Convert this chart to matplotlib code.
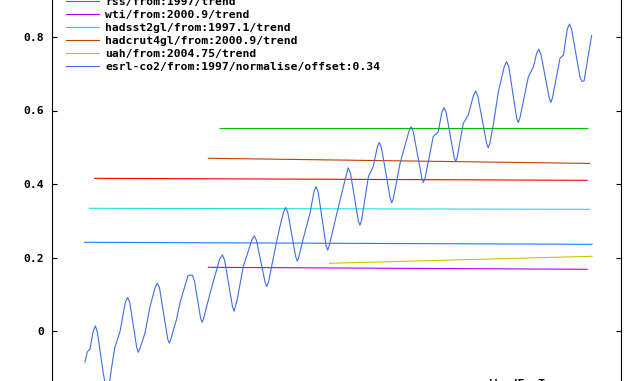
import matplotlib
matplotlib.use("Agg")
import matplotlib.pyplot as plt
from matplotlib.lines import Line2D

# ---------------- data ----------------
# CO2 curve (esrl-co2/from:1997/normalise/offset:0.34)
co2_years = [
    1997.04, 1997.12, 1997.20, 1997.30, 1997.37, 1997.44, 1997.62, 1997.72, 1997.78, 1997.89,
    1997.99, 1998.15, 1998.32, 1998.39, 1998.46, 1998.68, 1998.73, 1998.78, 1998.94, 1999.10,
    1999.26, 1999.33, 1999.40, 1999.66, 1999.71, 1999.76, 1999.94, 2000.05, 2000.30, 2000.36,
    2000.44, 2000.51, 2000.70, 2000.75, 2000.80, 2001.00, 2001.30, 2001.39, 2001.46, 2001.71,
    2001.76, 2001.86, 2002.05, 2002.32, 2002.40, 2002.47, 2002.74, 2002.79, 2002.85, 2003.05,
    2003.21, 2003.33, 2003.39, 2003.46, 2003.71, 2003.76, 2003.81, 2003.95, 2004.16, 2004.29,
    2004.35, 2004.42, 2004.67, 2004.72, 2004.77, 2005.01, 2005.27, 2005.37, 2005.44, 2005.69,
    2005.74, 2005.79, 2006.01, 2006.16, 2006.29, 2006.35, 2006.42, 2006.70, 2006.75, 2006.80,
    2007.01, 2007.29, 2007.36, 2007.43, 2007.70, 2007.75, 2007.80, 2008.06, 2008.22, 2008.33,
    2008.40, 2008.47, 2008.72, 2008.77, 2008.82, 2009.01, 2009.17, 2009.33, 2009.40, 2009.47,
    2009.75, 2009.80, 2009.85, 2009.96, 2010.12, 2010.31, 2010.38, 2010.45, 2010.70, 2010.75,
    2010.80, 2011.07, 2011.23, 2011.33, 2011.40, 2011.47, 2011.73, 2011.78, 2011.83, 2012.07,
    2012.18, 2012.30, 2012.37, 2012.44, 2012.70, 2012.76, 2012.83, 2013.07,
]
co2_values = [
    -0.085, -0.056, -0.050, -0.002, 0.014, -0.005, -0.114, -0.160, -0.162, -0.097,
    -0.044, -0.002, 0.078, 0.091, 0.078, -0.045, -0.058, -0.048, -0.006, 0.066,
    0.118, 0.130, 0.118, -0.022, -0.033, -0.022, 0.032, 0.077, 0.150, 0.152,
    0.152, 0.135, 0.035, 0.024, 0.035, 0.103, 0.195, 0.207, 0.193, 0.066,
    0.054, 0.086, 0.175, 0.247, 0.259, 0.246, 0.133, 0.121, 0.133, 0.220,
    0.284, 0.325, 0.336, 0.322, 0.202, 0.190, 0.202, 0.252, 0.320, 0.380,
    0.393, 0.378, 0.232, 0.220, 0.232, 0.320, 0.411, 0.444, 0.430, 0.300,
    0.288, 0.300, 0.420, 0.447, 0.500, 0.513, 0.500, 0.361, 0.349, 0.361,
    0.456, 0.543, 0.556, 0.542, 0.416, 0.404, 0.416, 0.529, 0.542, 0.595,
    0.608, 0.594, 0.473, 0.461, 0.473, 0.565, 0.588, 0.640, 0.653, 0.639,
    0.510, 0.499, 0.510, 0.561, 0.651, 0.720, 0.733, 0.719, 0.579, 0.567,
    0.579, 0.692, 0.719, 0.755, 0.767, 0.752, 0.634, 0.622, 0.634, 0.742,
    0.751, 0.822, 0.835, 0.820, 0.692, 0.680, 0.680, 0.804,
]

# Trend lines: (start year, end year), (start value, end value)
trend_names = ["gistemp-hidden", "hadcrut3-hidden", "rss/from:1997/trend", "wti/from:2000.9/trend",
               "hadsst2gl/from:1997.1/trend", "hadcrut4gl/from:2000.9/trend", "uah/from:2004.75/trend"]
trend_years = [(2001.28, 2012.95), (1997.33, 2012.95), (1997.01, 2013.10), (2000.93, 2012.95),
               (1997.17, 2013.02), (2000.93, 2013.02), (2004.76, 2013.10)]
trend_values = [(0.552, 0.552), (0.4155, 0.410), (0.2414, 0.2359), (0.1733, 0.1679),
                (0.3339, 0.3311), (0.470, 0.456), (0.1842, 0.2033)]
trend_colors = ["#00c000", "#ff0000", "#1a7cff", "#b000ff", "#20e0e0", "#c04000", "#c8c800"]

co2_color = "#3f6fe0"

legend_labels = ["rss/from:1997/trend", "wti/from:2000.9/trend", "hadsst2gl/from:1997.1/trend",
                 "hadcrut4gl/from:2000.9/trend", "uah/from:2004.75/trend",
                 "esrl-co2/from:1997/normalise/offset:0.34"]
legend_colors = ["#2a70e0", "#b000ff", "#20d0d0", "#c04000", "#c0c020", "#3f6fe0"]

ytick_values = [0, 0.2, 0.4, 0.6, 0.8]
ytick_labels = ["0", "0.2", "0.4", "0.6", "0.8"]

# ---------------- drawing ----------------
W, H = 640, 381
LW = 0.8
fig = plt.figure(figsize=(W / 100, H / 100), dpi=100)
fig.patch.set_facecolor("white")

ax = fig.add_axes([52 / W, 0, 569 / W, 1])
ax.set_xlim(1996, 2014)
ax.set_ylim(-50 / 367.5, 331 / 367.5)

for (x0, x1), (y0, y1), c in zip(trend_years, trend_values, trend_colors):
    ax.plot([x0, x1], [y0, y1], color=c, lw=LW, solid_capstyle="butt")

ax.plot(co2_years, co2_values, color=co2_color, lw=LW)

for s in ["top", "bottom"]:
    ax.spines[s].set_visible(False)
for s in ["left", "right"]:
    ax.spines[s].set_linewidth(0.8)
    ax.spines[s].set_color("black")

font = dict(family="DejaVu Sans Mono", weight="bold", size=8.2)
ax.set_xticks([])
ax.set_yticks(ytick_values)
ax.set_yticklabels(ytick_labels, **font)
ax.tick_params(axis="y", direction="in", length=3.6, width=0.8, left=True, right=True,
               labelleft=True, labelright=False, pad=5.8, colors="black")

# legend (drawn manually)
for i, (lab, col) in enumerate(zip(legend_labels, legend_colors)):
    yc = 1.3 + i * 13.0
    fig.add_artist(Line2D([66 / W, 99 / W], [1 - yc / H, 1 - yc / H], transform=fig.transFigure,
                          color=col, lw=LW))
    fig.text(105 / W, 1 - (yc + 3.8) / H, lab, ha="left", va="baseline", color="black", **font)

# credit text, mostly below the visible area
fig.text(490 / W, 1 - 387 / H, "WoodForTrees.org", ha="left", va="baseline", color="black", **font)

fig.savefig("out.png", dpi=100)
